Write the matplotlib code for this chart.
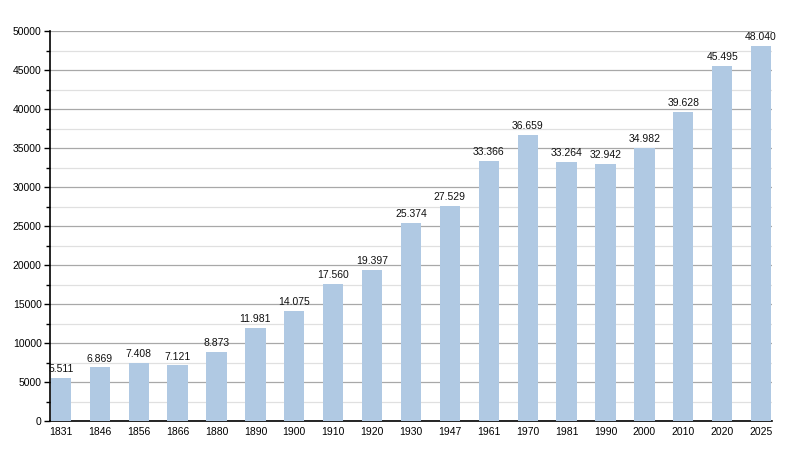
import numpy as np
import matplotlib.pyplot as plt
from matplotlib.ticker import MultipleLocator

years = ['1831', '1846', '1856', '1866', '1880', '1890', '1900', '1910', '1920', '1930',
         '1947', '1961', '1970', '1981', '1990', '2000', '2010', '2020', '2025']
population = [5511, 6869, 7408, 7121, 8873, 11981, 14075, 17560, 19397, 25374,
              27529, 33366, 36659, 33264, 32942, 34982, 39628, 45495, 48040]

plt.rcParams['font.family'] = ['Liberation Sans', 'DejaVu Sans']

fig = plt.figure(figsize=(8, 4.5), dpi=100)
ax = fig.add_axes([0.0625, 0.0644, 0.9025, 0.8667])

x = np.arange(len(years))
ax.bar(x, population, width=0.52, color='#b0c9e3', zorder=3)

for xi, v in zip(x, population):
    label = '{:,}'.format(v).replace(',', '.')
    ax.text(xi, v + 500, label, ha='center', va='bottom', fontsize=7.5, color='#111111', zorder=4)

ax.set_xlim(-0.28, len(years) - 1 + 0.28)
ax.set_ylim(0, 50000)
ax.set_xticks(x)
ax.set_xticklabels(years)
ax.yaxis.set_major_locator(MultipleLocator(5000))
ax.yaxis.set_minor_locator(MultipleLocator(2500))
ax.grid(axis='y', which='major', color='#a8a8a8', linewidth=0.9, zorder=0)
ax.grid(axis='y', which='minor', color='#e0e0e0', linewidth=0.9, zorder=0)

for s in ['top', 'right']:
    ax.spines[s].set_visible(False)
ax.spines['left'].set_linewidth(1.2)
ax.spines['bottom'].set_linewidth(1.2)
ax.tick_params(axis='x', length=0, labelsize=7.5, pad=4)
ax.tick_params(axis='y', which='major', length=4, width=1, labelsize=7.5, pad=2)
ax.tick_params(axis='y', which='minor', length=3, width=1)

fig.savefig('out.png', dpi=100)
